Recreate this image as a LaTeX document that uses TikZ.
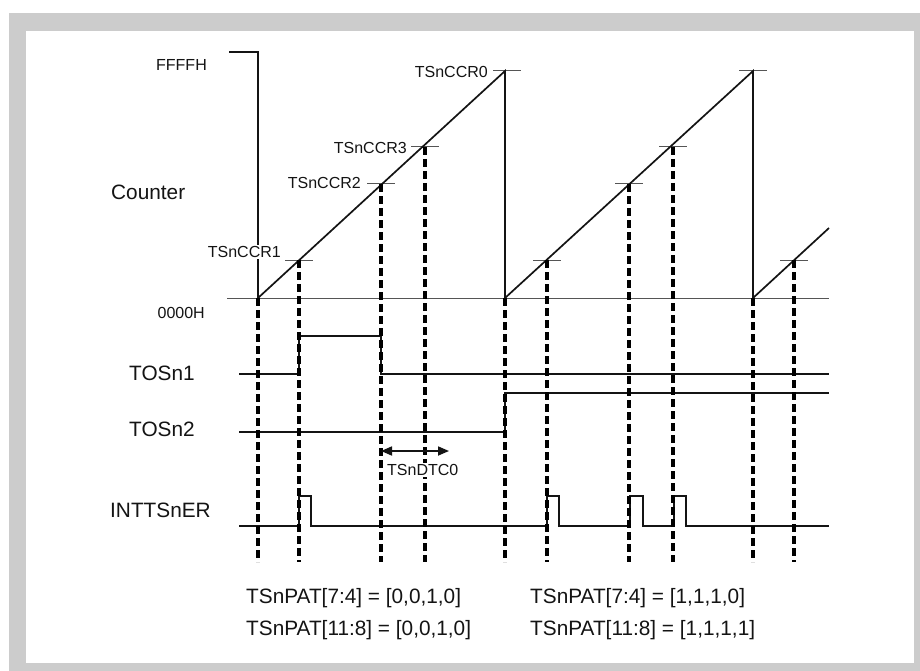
\documentclass[tikz,border=0pt]{standalone}
\usepackage{fontspec}
\setmainfont{Liberation Sans}
\usetikzlibrary{arrows.meta}
\definecolor{framegray}{HTML}{CCCCCC}
\definecolor{ink}{HTML}{141414}
\definecolor{thingray}{HTML}{555555}
\begin{document}
\begin{tikzpicture}[x=1pt,y=-1pt,
  big/.style={font=\fontsize{20.8}{24}\selectfont, inner sep=0pt, text=ink},
  small/.style={font=\fontsize{16}{19}\selectfont, inner sep=0pt, text=ink},
  wave/.style={line width=1.7pt, draw=ink},
  guide/.style={line width=1pt, draw=thingray},
  dashline/.style={line width=3.2pt, draw=black, dash pattern=on 8pt off 4pt},
  dtcarrow/.style={line width=1.7pt, draw=ink, {Triangle[length=11pt,width=9pt]}-{Triangle[length=11pt,width=9pt]}}]
\useasboundingbox (0,0) rectangle (920,671);
\fill[framegray] (9,13) rectangle (920,671);
\fill[white] (26,31) rectangle (914,663);

% axis and baseline
\draw[guide] (227,298) -- (829,298);
\draw[wave] (229,52) -- (258,52) -- (258,298);

% ticks
\draw[guide] (285,260) -- (313,260) (367,184) -- (395,184) (411,147) -- (439,147)
  (493,71) -- (521,71) (533,260) -- (561,260) (615,184) -- (643,184)
  (659,147) -- (687,147) (739,71) -- (767,71) (780,260) -- (808,260);

% sawtooth
\draw[wave, line join=miter] (258,298) -- (505,71) -- (505,298) -- (753,71) -- (753,298) -- (829,228);

% waveforms
\draw[wave] (239,374) -- (299,374) -- (299,336) -- (381,336) -- (381,374) -- (829,374);
\draw[wave] (239,432) -- (505,432) -- (505,393) -- (829,393);
\draw[wave] (239,526) -- (299,526) -- (299,496) -- (311,496) -- (311,526)
  -- (547,526) -- (547,496) -- (559,496) -- (559,526)
  -- (630,526) -- (630,496) -- (643,496) -- (643,526)
  -- (674,526) -- (674,496) -- (686,496) -- (686,526) -- (829,526);

% dashed guides
\draw[dashline] (258,298) -- (258,562) (299,260) -- (299,562) (381,184) -- (381,562)
  (425,147) -- (425,562) (505,298) -- (505,562) (547,260) -- (547,562)
  (629,184) -- (629,562) (673,147) -- (673,562) (753,298) -- (753,562)
  (794,260) -- (794,562);

% dead time arrow
\coordinate (d1) at (381,451);
\coordinate (d2) at (449,451);
\draw[dtcarrow] (d1) -- (d2);

% labels
\node[small, anchor=base east] (ffff) at (207,71) {FFFFH};
\node[big, anchor=base west] (counter) at (111,199) {Counter};
\node[small, anchor=base east] (zero) at (205,318) {0000H};
\node[small, anchor=base east, fill=white, inner sep=1.5pt] (ccr1) at (282.5,257.5) {TSnCCR1};
\node[small, anchor=base east] (ccr2) at (361,189) {TSnCCR2};
\node[small, anchor=base east] (ccr3) at (407,154) {TSnCCR3};
\node[small, anchor=base east] (ccr0) at (488,78) {TSnCCR0};
\node[big, anchor=base west] (tos1) at (129,380) {TOSn1};
\node[big, anchor=base west] (tos2) at (129,436) {TOSn2};
\node[big, anchor=base west] (intt) at (110,517) {INTTSnER};
\node[small, anchor=base west, fill=white, inner sep=1.5pt] (dtc) at (385.5,475.5) {TSnDTC0};
\node[big, anchor=base west] (pat1) at (246,603) {TSnPAT[7:4] = [0,0,1,0]};
\node[big, anchor=base west] (pat2) at (246,635) {TSnPAT[11:8] = [0,0,1,0]};
\node[big, anchor=base west] (pat3) at (530,603) {TSnPAT[7:4] = [1,1,1,0]};
\node[big, anchor=base west] (pat4) at (530,635) {TSnPAT[11:8] = [1,1,1,1]};
\end{tikzpicture}
\end{document}
